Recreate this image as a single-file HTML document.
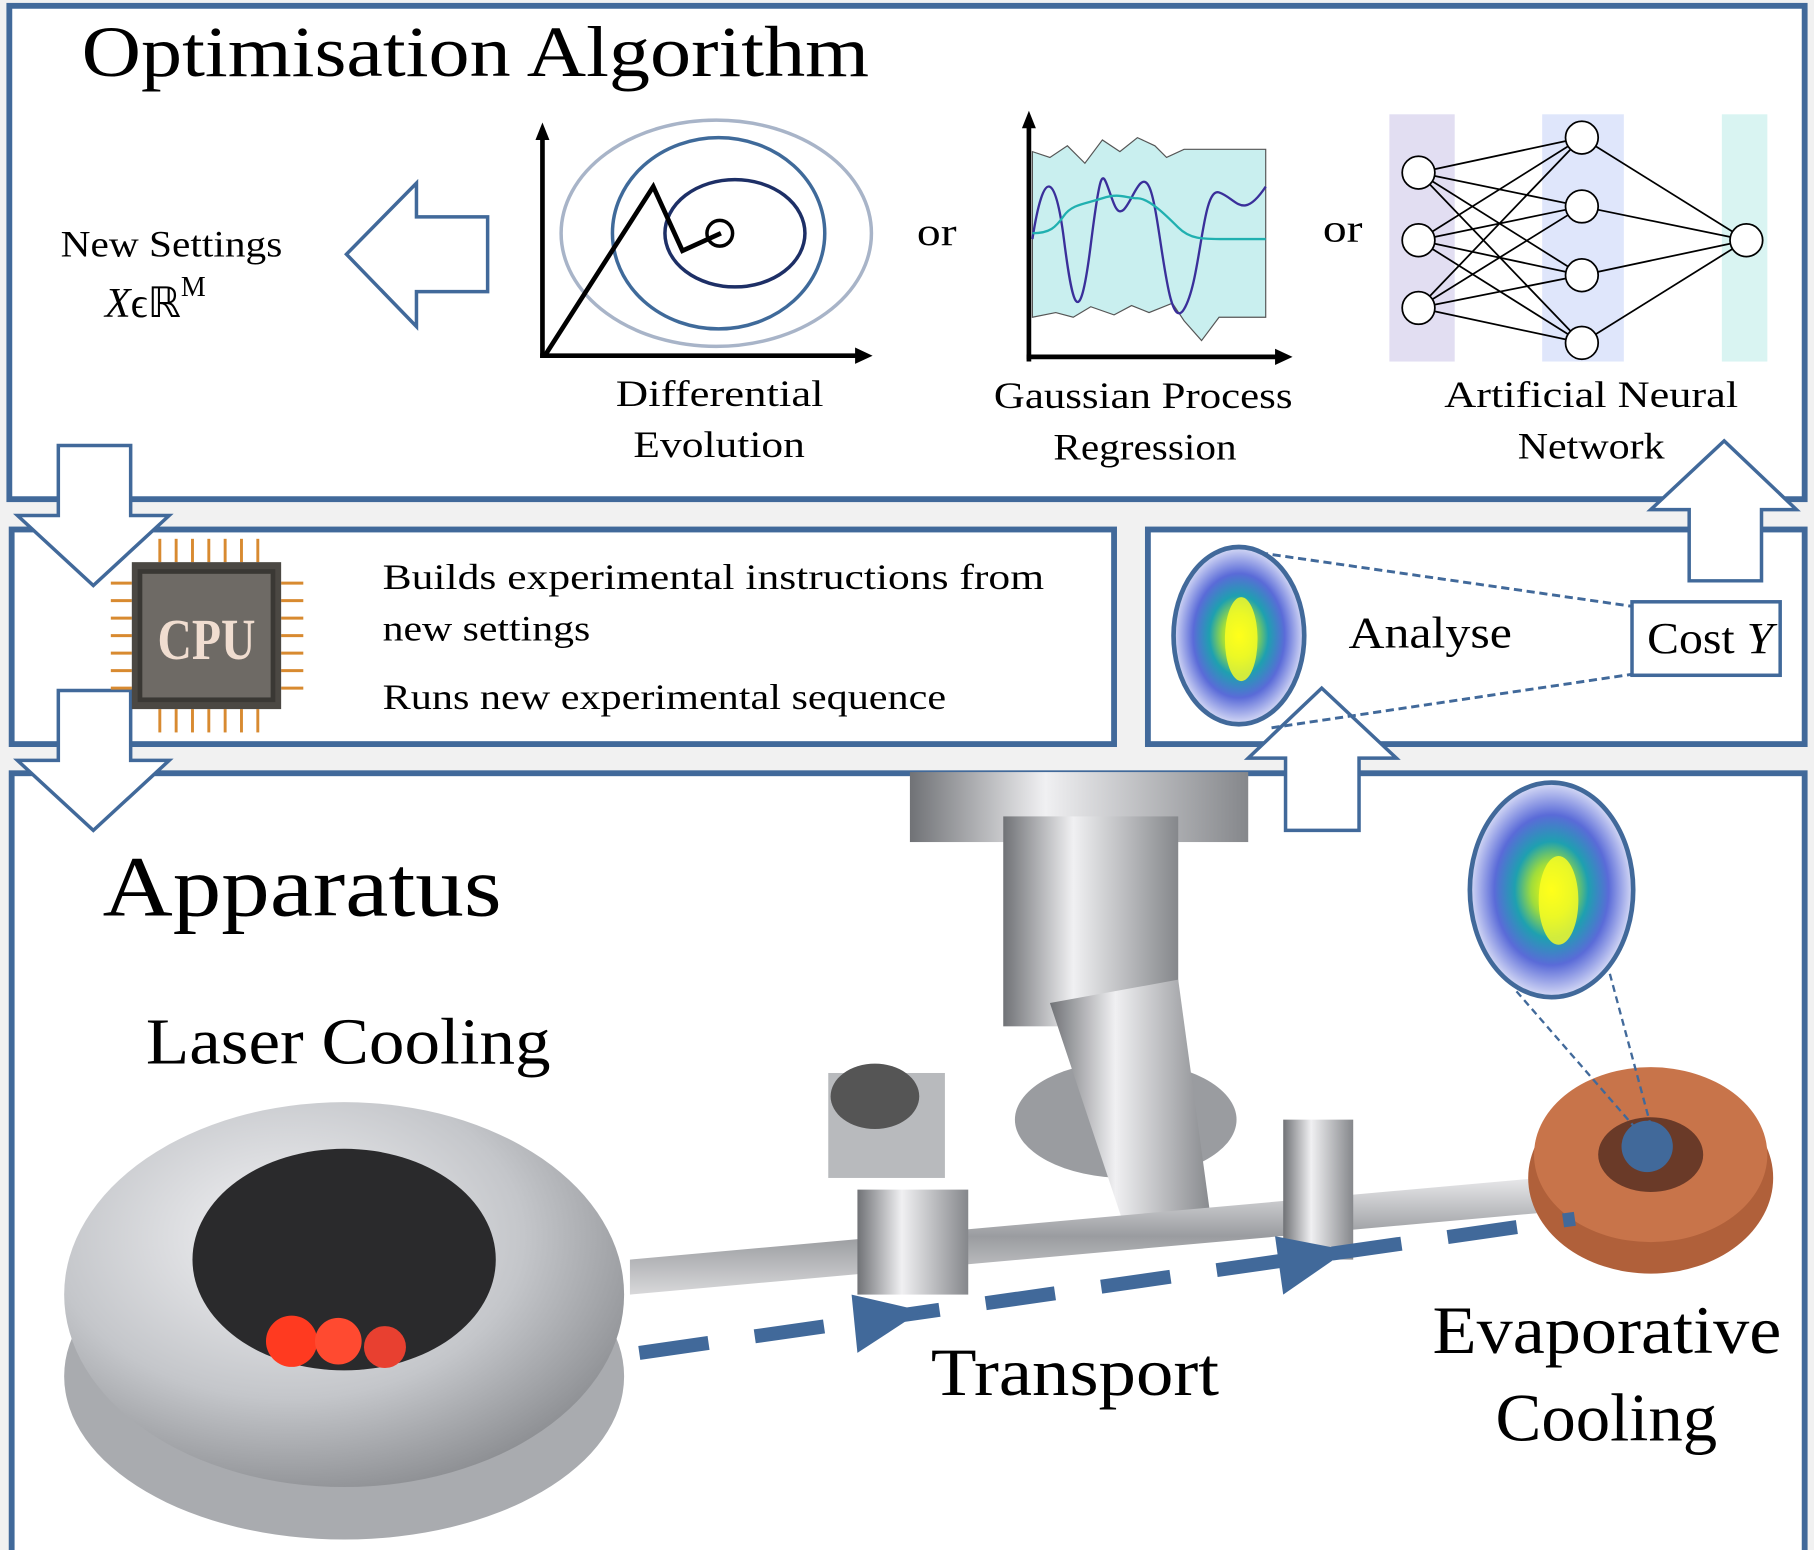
<!DOCTYPE html>
<html><head><meta charset="utf-8"><style>
html,body{margin:0;padding:0;background:#fff}
svg{display:block}
text{font-family:"Liberation Serif",serif;fill:#000}
</style></head><body>
<svg width="1814" height="1550" viewBox="0 0 1555 1329" preserveAspectRatio="none">
<defs>
<radialGradient id="cloud" cx="50%" cy="50%" r="50%">
<stop offset="0" stop-color="#ffff00"/><stop offset="0.25" stop-color="#9fdc3c"/><stop offset="0.45" stop-color="#1ea0b0"/><stop offset="0.7" stop-color="#5a6bd8"/><stop offset="1" stop-color="#d8dcf6"/>
</radialGradient>
<radialGradient id="metal" cx="40%" cy="35%" r="70%"><stop offset="0" stop-color="#f4f4f6"/><stop offset="0.6" stop-color="#c4c6ca"/><stop offset="1" stop-color="#8a8c90"/></radialGradient>
<linearGradient id="pipe" x1="0" y1="0" x2="0" y2="1"><stop offset="0" stop-color="#e8e8ea"/><stop offset="0.5" stop-color="#9a9ca0"/><stop offset="1" stop-color="#d8d8da"/></linearGradient>
<linearGradient id="vpipe" x1="0" y1="0" x2="1" y2="0"><stop offset="0" stop-color="#707276"/><stop offset="0.4" stop-color="#f0f0f2"/><stop offset="1" stop-color="#85878b"/></linearGradient>
</defs>
<rect width="1555" height="1329" fill="#f1f1f1"/>
<rect x="8" y="5" width="1539" height="423" fill="#fff" stroke="#41699a" stroke-width="5"/>
<rect x="10" y="454" width="945" height="184" fill="#fff" stroke="#41699a" stroke-width="5"/>
<rect x="984" y="454" width="563" height="184" fill="#fff" stroke="#41699a" stroke-width="5"/>
<rect x="10" y="663" width="1537" height="670" fill="#fff" stroke="#41699a" stroke-width="5"/>

<text x="70" y="65" font-size="62" textLength="675" lengthAdjust="spacingAndGlyphs">Optimisation Algorithm</text>
<text x="52" y="220" font-size="32" textLength="190" lengthAdjust="spacingAndGlyphs">New Settings</text>
<text x="90" y="272" font-size="36" font-style="italic">X<tspan font-style="normal">ϵℝ</tspan><tspan font-style="normal" font-size="24" dy="-18">M</tspan></text>
<polygon points="297,218 357,157 357,186 418,186 418,250 357,250 357,280" fill="#fff" stroke="#41699a" stroke-width="3"/>

<g>
<ellipse cx="614" cy="200" rx="133" ry="97" fill="none" stroke="#a8b4c8" stroke-width="3"/>
<ellipse cx="616" cy="200" rx="91" ry="82" fill="none" stroke="#3f6a9a" stroke-width="3"/>
<ellipse cx="630" cy="200" rx="60" ry="46" fill="none" stroke="#1d2f66" stroke-width="3"/>
<circle cx="617" cy="200" r="11" fill="none" stroke="#000" stroke-width="3"/>
<polyline points="467,305 560,160 585,215 618,200" fill="none" stroke="#000" stroke-width="4"/>
<line x1="465" y1="307" x2="465" y2="115" stroke="#000" stroke-width="4"/>
<polygon points="465,105 459,120 471,120"/>
<line x1="463" y1="305" x2="735" y2="305" stroke="#000" stroke-width="4"/>
<polygon points="748,305 733,298 733,312"/>
</g>
<text x="528" y="348" font-size="32" textLength="178" lengthAdjust="spacingAndGlyphs">Differential</text>
<text x="543" y="392" font-size="32" textLength="147" lengthAdjust="spacingAndGlyphs">Evolution</text>
<text x="786" y="210" font-size="34" textLength="34" lengthAdjust="spacingAndGlyphs">or</text>
<text x="1134" y="207" font-size="34" textLength="34" lengthAdjust="spacingAndGlyphs">or</text>

<g>
<path d="M885,130 L900,135 L915,125 L930,140 L945,120 L960,130 L975,118 L990,125 L1000,135 L1015,128 L1085,128 L1085,272 L1045,272 L1030,292 L1015,275 L1005,260 L985,268 L970,262 L955,270 L935,263 L920,272 L905,268 L885,272 Z" fill="#c9efef" stroke="#555" stroke-width="1"/>
<path d="M885,205 C895,140 905,150 912,205 S925,290 935,210 S945,150 955,175 S975,140 985,160 S1000,290 1015,265 S1030,160 1045,165 S1065,190 1085,160" fill="none" stroke="#3a2f9a" stroke-width="2"/>
<path d="M885,200 C900,200 905,195 912,185 S930,175 945,170 S965,170 975,170 S1000,185 1010,195 S1030,205 1050,205 L1085,205" fill="none" stroke="#20b0b0" stroke-width="2"/>
<line x1="882" y1="310" x2="882" y2="105" stroke="#000" stroke-width="4"/>
<polygon points="882,95 876,110 888,110"/>
<line x1="880" y1="306" x2="1095" y2="306" stroke="#000" stroke-width="4"/>
<polygon points="1108,306 1093,299 1093,313"/>
</g>
<text x="852" y="350" font-size="32" textLength="256" lengthAdjust="spacingAndGlyphs">Gaussian Process</text>
<text x="903" y="394" font-size="32" textLength="157" lengthAdjust="spacingAndGlyphs">Regression</text>

<g>
<rect x="1191" y="98" width="56" height="212" fill="#e2def2"/>
<rect x="1322" y="98" width="70" height="212" fill="#dfe6fb"/>
<rect x="1476" y="98" width="39" height="212" fill="#d9f4f2"/>
<g stroke="#000" stroke-width="1.5" id="nnlines"></g>
<g fill="#fff" stroke="#000" stroke-width="1.5">
<circle cx="1216" cy="148" r="14"/><circle cx="1216" cy="206" r="14"/><circle cx="1216" cy="264" r="14"/>
<circle cx="1356" cy="118" r="14"/><circle cx="1356" cy="177" r="14"/><circle cx="1356" cy="236" r="14"/><circle cx="1356" cy="294" r="14"/>
<circle cx="1497" cy="206" r="14"/>
</g>
</g>
<text x="1238" y="349" font-size="32" textLength="252" lengthAdjust="spacingAndGlyphs">Artificial Neural</text>
<text x="1301" y="393" font-size="32" textLength="126" lengthAdjust="spacingAndGlyphs">Network</text>

<polygon points="50,382 112,382 112,442 145,442 80,502 15,442 50,442" fill="#fff" stroke="#41699a" stroke-width="3"/>
<polygon points="50,592 112,592 112,652 145,652 80,712 15,652 50,652" fill="#fff" stroke="#41699a" stroke-width="3"/>
<polygon points="1478,378 1540,437 1510,437 1510,498 1448,498 1448,437 1415,437" fill="#fff" stroke="#41699a" stroke-width="3"/>
<polygon points="1133,590 1197,650 1165,650 1165,712 1102,712 1102,650 1070,650" fill="#fff" stroke="#41699a" stroke-width="3"/>

<g>
<g stroke="#d88a30" stroke-width="2.5" id="pins"></g>
<rect x="113" y="482" width="128" height="126" fill="#4b4843"/>
<rect x="120" y="490" width="114" height="110" fill="#6e6a65" stroke="#3a3834" stroke-width="4"/>
<text x="177" y="565" font-size="50" font-family="Liberation Mono" font-weight="bold" text-anchor="middle" textLength="84" lengthAdjust="spacingAndGlyphs" style="fill:#f0ddd0">CPU</text>
</g>
<text x="328" y="505" font-size="31" textLength="567" lengthAdjust="spacingAndGlyphs">Builds experimental instructions from</text>
<text x="328" y="549" font-size="31" textLength="178" lengthAdjust="spacingAndGlyphs">new settings</text>
<text x="328" y="608" font-size="31" textLength="483" lengthAdjust="spacingAndGlyphs">Runs new experimental sequence</text>

<line x1="1080" y1="474" x2="1400" y2="520" stroke="#41699a" stroke-width="2.5" stroke-dasharray="7,4"/>
<line x1="1090" y1="624" x2="1400" y2="578" stroke="#41699a" stroke-width="2.5" stroke-dasharray="7,4"/>
<ellipse cx="1062" cy="545" rx="56" ry="76" fill="url(#cloud)" stroke="#41699a" stroke-width="4"/>
<ellipse cx="1064" cy="548" rx="14" ry="36" fill="#ffff20" opacity="0.8"/>
<text x="1156" y="555" font-size="38" textLength="140" lengthAdjust="spacingAndGlyphs">Analyse</text>
<rect x="1399" y="516" width="127" height="63" fill="#fff" stroke="#41699a" stroke-width="3"/>
<text x="1412" y="560" font-size="38" textLength="108" lengthAdjust="spacingAndGlyphs">Cost <tspan font-style="italic">Y</tspan></text>

<text x="88" y="785" font-size="74" textLength="342" lengthAdjust="spacingAndGlyphs">Apparatus</text>
<text x="125" y="912" font-size="56" textLength="347" lengthAdjust="spacingAndGlyphs">Laser Cooling</text>
<g>
<rect x="780" y="662" width="290" height="60" fill="url(#vpipe)"/>
<rect x="860" y="700" width="150" height="180" fill="url(#vpipe)"/>
<ellipse cx="965" cy="960" rx="95" ry="50" fill="#9a9ca0"/>
<polygon points="900,860 1010,840 1040,1060 970,1070" fill="url(#vpipe)"/>
<polygon points="540,1110 1320,1040 1320,1010 540,1080" fill="url(#pipe)"/>
<rect x="710" y="920" width="100" height="90" fill="#b8babd"/>
<ellipse cx="750" cy="940" rx="38" ry="28" fill="#555"/>
<rect x="735" y="1020" width="95" height="90" fill="url(#vpipe)"/>
<rect x="1100" y="960" width="60" height="120" fill="url(#vpipe)"/>
<ellipse cx="295" cy="1180" rx="240" ry="140" fill="#a9abaf"/>
<ellipse cx="295" cy="1110" rx="240" ry="165" fill="url(#metal)"/>
<ellipse cx="295" cy="1080" rx="130" ry="95" fill="#2a2a2c"/>
<circle cx="250" cy="1150" r="22" fill="#ff3a20"/><circle cx="290" cy="1150" r="20" fill="#ff4a30"/><circle cx="330" cy="1155" r="18" fill="#e84030"/>
<ellipse cx="1415" cy="1010" rx="105" ry="82" fill="#b0603a"/>
<ellipse cx="1415" cy="990" rx="100" ry="75" fill="#c8744a"/>
<ellipse cx="1415" cy="990" rx="45" ry="32" fill="#6a3a28"/>
<ellipse cx="1330" cy="763" rx="70" ry="92" fill="url(#cloud)" stroke="#41699a" stroke-width="4"/>
<ellipse cx="1336" cy="772" rx="17" ry="38" fill="#ffff20" opacity="0.8"/>
<line x1="1300" y1="850" x2="1400" y2="965" stroke="#41699a" stroke-width="2" stroke-dasharray="6,4"/>
<line x1="1380" y1="835" x2="1415" y2="965" stroke="#41699a" stroke-width="2" stroke-dasharray="6,4"/>
<circle cx="1412" cy="983" r="22" fill="#41699a"/>
<line x1="548" y1="1160" x2="1350" y2="1045" stroke="#41699a" stroke-width="12" stroke-dasharray="60,40"/>
<polygon points="735,1160 790,1124 730,1110" fill="#41699a"/>
<polygon points="1100,1110 1155,1072 1093,1060" fill="#41699a"/>
</g>
<text x="798" y="1196" font-size="58" textLength="247" lengthAdjust="spacingAndGlyphs">Transport</text>
<text x="1228" y="1160" font-size="58" textLength="299" lengthAdjust="spacingAndGlyphs">Evaporative</text>
<text x="1282" y="1235" font-size="58" textLength="190" lengthAdjust="spacingAndGlyphs">Cooling</text>
</svg>
<script>
const inputs=[148,206,264], hidden=[118,177,236,294], output=[206];
const g=document.getElementById('nnlines');
function ln(x1,y1,x2,y2){const l=document.createElementNS('http://www.w3.org/2000/svg','line');
l.setAttribute('x1',x1);l.setAttribute('y1',y1);l.setAttribute('x2',x2);l.setAttribute('y2',y2);


g.appendChild(l);}
inputs.forEach(a=>hidden.forEach(b=>ln(1216,a,1356,b)));
hidden.forEach(a=>output.forEach(b=>ln(1356,a,1497,b)));
const p=document.getElementById('pins');
function ln2(x1,y1,x2,y2){const l=document.createElementNS('http://www.w3.org/2000/svg','line');
l.setAttribute('x1',x1);l.setAttribute('y1',y1);l.setAttribute('x2',x2);l.setAttribute('y2',y2);


p.appendChild(l);}
for(let i=0;i<7;i++){const x=137+i*14;ln2(x,462,x,482);ln2(x,608,x,628);}
for(let i=0;i<7;i++){const y=500+i*15;ln2(95,y,113,y);ln2(241,y,260,y);}
</script>
</body></html>
